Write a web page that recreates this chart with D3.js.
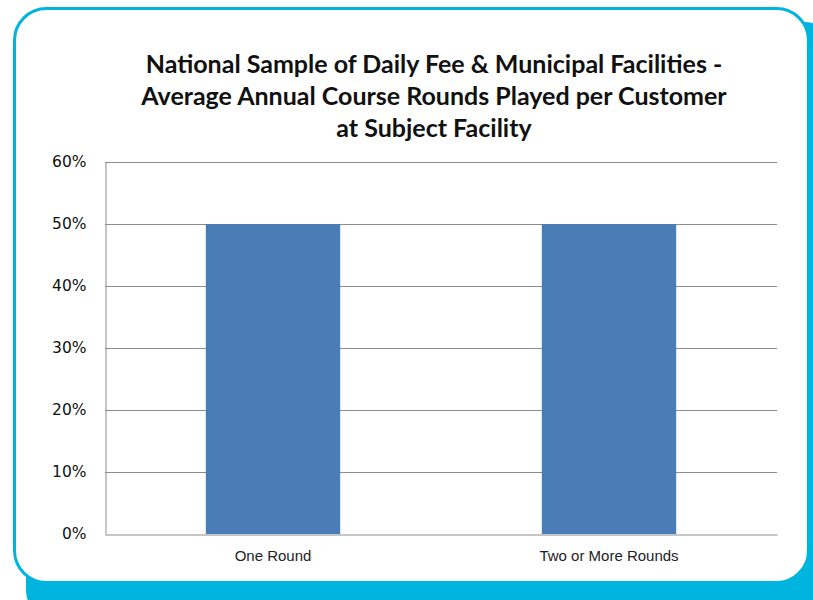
<!DOCTYPE html>
<html>
<head>
<meta charset="utf-8">
<script src="https://cdn.jsdelivr.net/npm/d3@7"></script>
<style>
  body { margin: 0; background: #fff; }
  svg { display: block; }
</style>
</head>
<body>
<div id="chart"></div>
<script>
// chart data
var categories = ["One Round", "Two or More Rounds"];
var shares = [0.50, 0.50];
var yTicks = [0, 0.1, 0.2, 0.3, 0.4, 0.5, 0.6];
var titleLines = [
    "National Sample of Daily Fee & Municipal Facilities -",
    "Average Annual Course Rounds Played per Customer",
    "at Subject Facility"
];

var width = 813, height = 600;
var margin = { top: 162, right: 36, bottom: 66, left: 105 };

var svg = d3.select("#chart").append("svg")
    .attr("width", width)
    .attr("height", height);

// cyan frame: offset shadow + bordered white card
svg.append("rect")
    .attr("x", 26).attr("y", 22)
    .attr("width", 810).attr("height", 600)
    .attr("rx", 32)
    .attr("fill", "#00b4e0");
svg.append("rect")
    .attr("x", 14.5).attr("y", 8.5)
    .attr("width", 794).attr("height", 574)
    .attr("rx", 32)
    .attr("fill", "#fff")
    .attr("stroke", "#00b4e0")
    .attr("stroke-width", 3);

// title
var title = svg.append("text")
    .attr("text-anchor", "middle")
    .attr("font-family", "Lato, 'Open Sans', sans-serif")
    .attr("font-weight", "bold")
    .attr("font-size", 25)
    .attr("fill", "#111");
titleLines.forEach(function (line, i) {
    title.append("tspan")
        .attr("x", 434)
        .attr("y", 73 + i * 32)
        .text(line);
});

var innerW = width - margin.left - margin.right;
var innerH = height - margin.top - margin.bottom;

var x = d3.scaleBand()
    .domain(categories)
    .range([margin.left, margin.left + innerW])
    .paddingInner(0.6)
    .paddingOuter(0.3);

var y = d3.scaleLinear()
    .domain([0, 0.6])
    .range([margin.top + innerH, margin.top]);

// gridlines
svg.append("g")
    .selectAll("line")
    .data(yTicks.slice(1))
    .enter().append("line")
    .attr("x1", margin.left).attr("x2", margin.left + innerW)
    .attr("y1", function (d) { return Math.round(y(d)) + 0.5; })
    .attr("y2", function (d) { return Math.round(y(d)) + 0.5; })
    .attr("stroke", "#8c8c8c")
    .attr("stroke-width", 1);

// bars
svg.append("g")
    .selectAll("rect")
    .data(shares)
    .enter().append("rect")
    .attr("x", function (d, i) { return x(categories[i]); })
    .attr("y", function (d) { return y(d); })
    .attr("width", x.bandwidth())
    .attr("height", function (d) { return y(0) - y(d); })
    .attr("fill", "#4a7db5");

// y axis
var yAxis = svg.append("g")
    .attr("transform", "translate(" + (margin.left + 0.5) + ",0)")
    .call(d3.axisLeft(y).tickValues(yTicks).tickFormat(d3.format(".0%")).tickSize(0).tickPadding(19));
yAxis.select(".domain").attr("stroke", "#8c8c8c");
yAxis.selectAll("text")
    .attr("font-family", "'DejaVu Sans', sans-serif")
    .attr("font-size", 15.5)
    .attr("fill", "#111");

// x axis
var xAxis = svg.append("g")
    .attr("transform", "translate(0," + (Math.round(y(0)) + 0.5) + ")")
    .call(d3.axisBottom(x).tickSize(0).tickPadding(16));
xAxis.select(".domain").attr("stroke", "#8c8c8c");
xAxis.selectAll("text")
    .attr("font-family", "'Liberation Sans', Arial, sans-serif")
    .attr("font-size", 15)
    .attr("fill", "#222");
</script>
</body>
</html>
